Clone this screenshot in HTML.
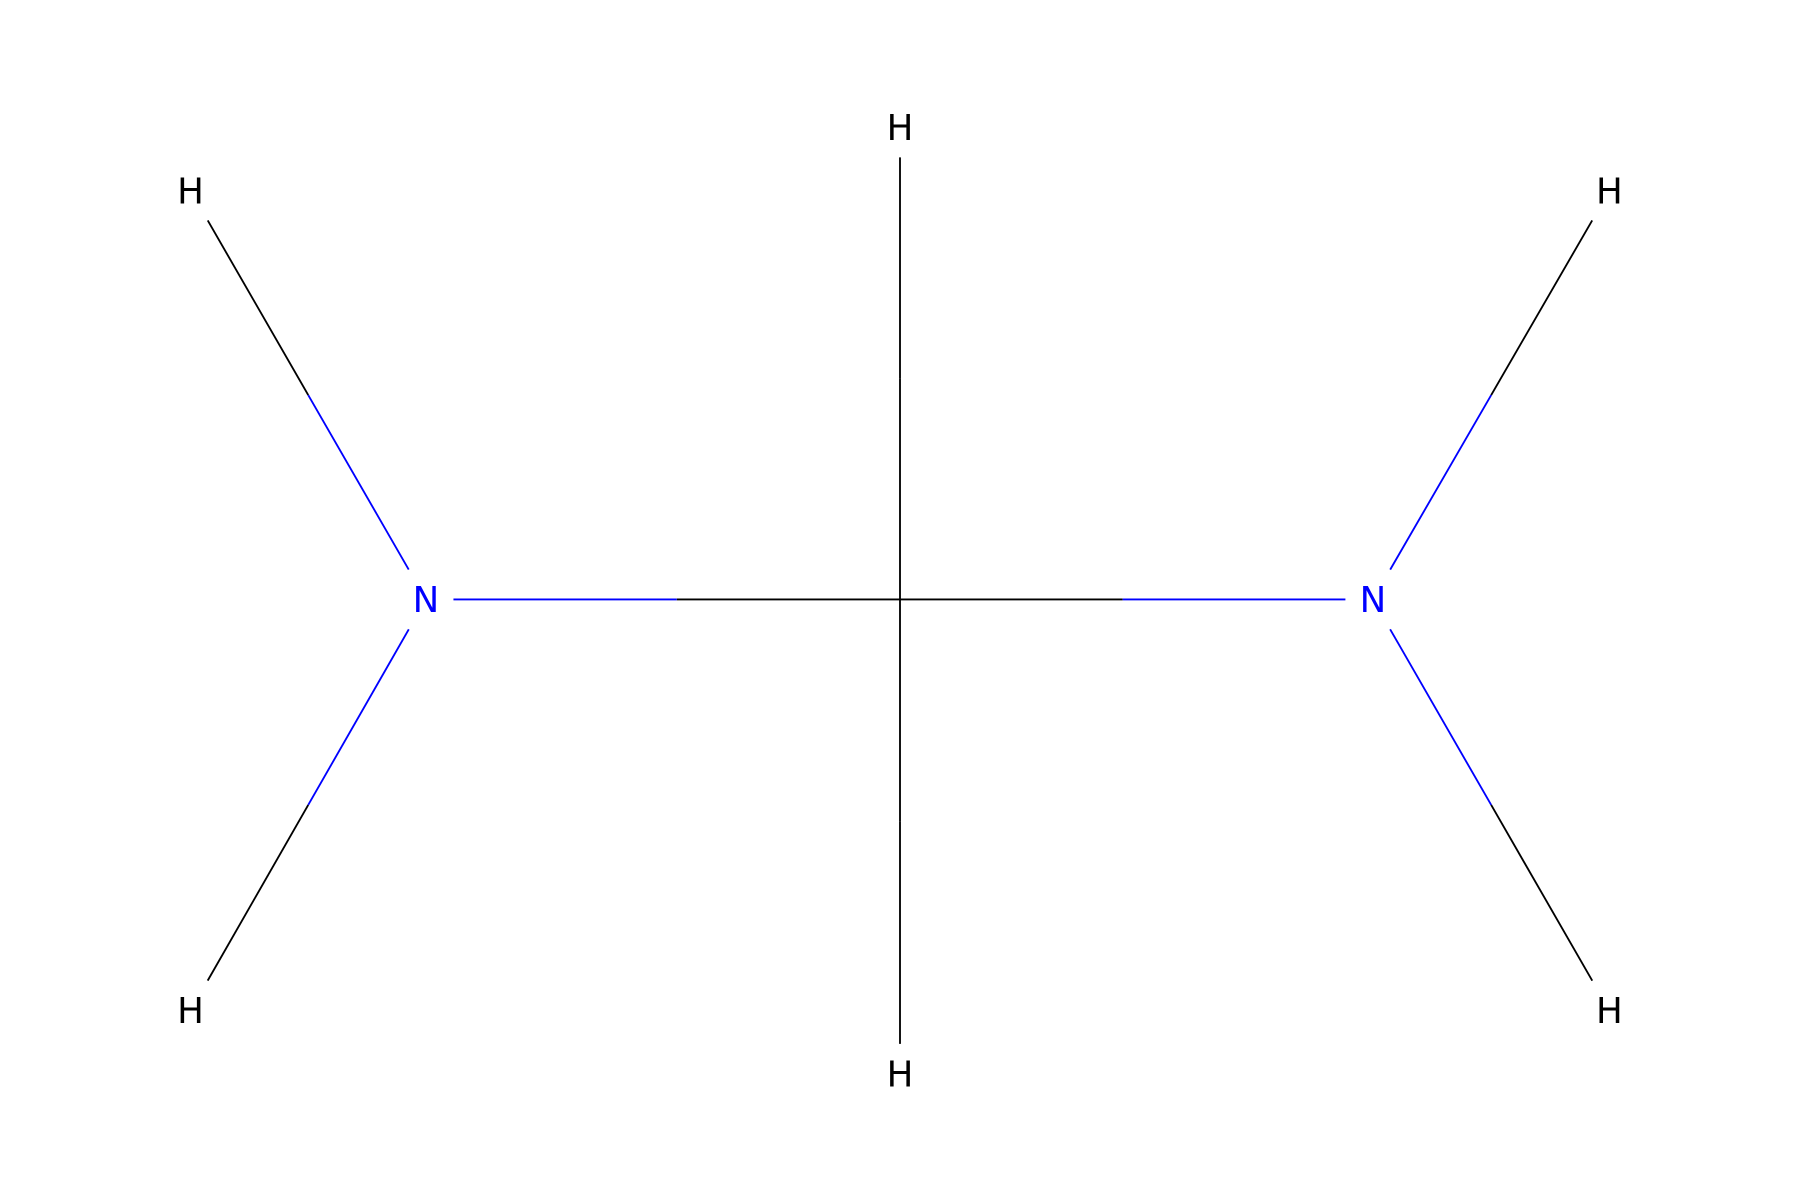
<!DOCTYPE html>
<html><head><meta charset="utf-8"><style>html,body{margin:0;padding:0;background:#fff;}svg{display:block;}</style></head>
<body>
<svg id="mol" width="1800" height="1200" viewBox="0 0 1568 1045" preserveAspectRatio="none" xmlns="http://www.w3.org/2000/svg">
<rect width="1568" height="1045" fill="#fff"/>
</svg>
<script>
const atomLabels = ["C","N","N","H","H","H","H","H","H"];
const atomX = [784,371,1196,784,784,166,166,1402,1402];
const atomY = [522,522,522,111,935,166,880,166,880];
const bondFrom = [0,0,0,0,1,1,2,2];
const bondTo = [1,2,3,4,5,6,7,8];
const colors = {C:"#000",N:"#0000ff",H:"#000"};
const svg = document.getElementById('mol');
const NS = "http://www.w3.org/2000/svg";
function trim(i, ux, uy){
  if(atomLabels[i]==="C") return 0;
  if(Math.abs(uy) < 0.01) return 24;
  if(Math.abs(ux) < 0.01) return 26;
  return 30;
}
function line(x1,y1,x2,y2,c,name){
  const l=document.createElementNS(NS,'line');
  l.setAttribute('x1',x1);l.setAttribute('y1',y1);l.setAttribute('x2',x2);l.setAttribute('y2',y2);
  l.setAttribute('stroke',c);l.setAttribute('stroke-width','1.6');
  
  
  svg.appendChild(l);
}
for(let k=0;k<bondFrom.length;k++){
  const a=bondFrom[k], b=bondTo[k];
  let x1=atomX[a],y1=atomY[a],x2=atomX[b],y2=atomY[b];
  const dx=x2-x1, dy=y2-y1, len=Math.hypot(dx,dy), ux=dx/len, uy=dy/len;
  const ta=trim(a,ux,uy), tb=trim(b,ux,uy);
  const sx=x1+ux*ta, sy=y1+uy*ta, ex=x2-ux*tb, ey=y2-uy*tb;
  const mx=(sx+ex)/2, my=(sy+ey)/2;
  line(sx,sy,mx,my,colors[atomLabels[a]],'bond-'+k+'-half-a');
  line(mx,my,ex,ey,colors[atomLabels[b]],'bond-'+k+'-half-b');
}
for(let i=0;i<atomLabels.length;i++){
  if(atomLabels[i]==="C") continue;
  const t=document.createElementNS(NS,'text');
  t.setAttribute('x',atomX[i]);t.setAttribute('y',atomY[i]+11);
  t.setAttribute('text-anchor','middle');
  t.setAttribute('font-family','"DejaVu Sans", "Liberation Sans", sans-serif');
  t.setAttribute('font-size','31');
  t.setAttribute('fill',colors[atomLabels[i]]);
  
  
  t.textContent=atomLabels[i];
  svg.appendChild(t);
}
</script>
</body></html>
